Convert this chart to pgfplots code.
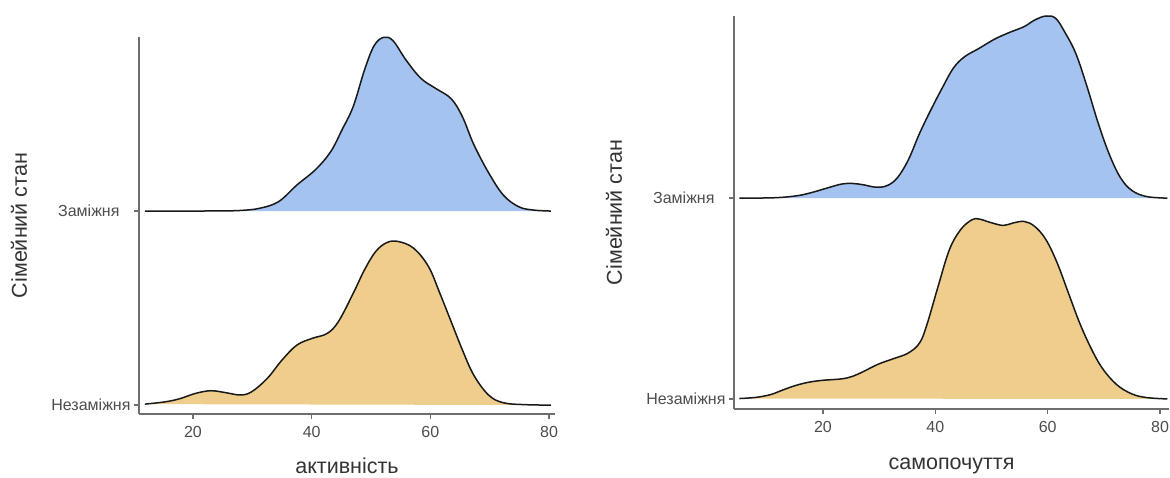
\documentclass[border=0pt]{standalone}
\usepackage{fontspec}
\setmainfont{Liberation Sans}
\usepackage{pgfplots}
\usepackage{pgfplotstable}
\pgfplotsset{compat=1.18}

\definecolor{ridgeblue}{HTML}{A4C3F0}
\definecolor{ridgeorange}{HTML}{EFCD8C}
\definecolor{axisgray}{HTML}{6E6E6E}
\definecolor{labelgray}{HTML}{4D4D4D}

% left panel: активність
\pgfplotstableread{
x y
11.9 1
20.0 1
25.0 1.001
28.0 1.003
31.2 1.014
34.4 1.048
37.5 1.134
40.7 1.215
43.2 1.306
45.1 1.418
47.0 1.539
48.9 1.727
50.5 1.851
52.1 1.895
53.7 1.878
55.9 1.778
58.4 1.684
60.9 1.632
63.5 1.579
65.4 1.486
67.3 1.344
69.8 1.198
72.3 1.082
74.9 1.022
77.4 1.005
80.3 1
}\actmarried
\pgfplotstableread{
x y
11.9 0.005
15.4 0.017
17.9 0.034
20.4 0.060
23.0 0.074
25.5 0.064
28.0 0.052
29.9 0.069
32.5 0.137
35.0 0.232
37.5 0.309
40.1 0.344
42.6 0.369
44.5 0.430
47.0 0.576
48.9 0.697
50.8 0.792
52.7 0.838
54.6 0.843
57.2 0.808
59.7 0.713
61.6 0.576
63.5 0.430
65.4 0.284
67.3 0.155
69.8 0.052
72.3 0.012
76.1 0.002
80.3 0
}\actsingle

% right panel: самопочуття
\pgfplotstableread{
x y
5.1 1
11.4 1.002
15.4 1.012
18.0 1.028
20.7 1.050
23.3 1.070
25.3 1.073
27.3 1.066
29.3 1.055
31.3 1.061
33.2 1.100
35.2 1.191
37.2 1.323
39.2 1.439
41.2 1.547
43.2 1.647
45.2 1.704
47.8 1.746
50.5 1.791
53.1 1.824
55.8 1.854
57.7 1.887
59.7 1.907
61.4 1.896
63.0 1.829
65.0 1.721
67.0 1.556
69.0 1.373
71.0 1.216
73.0 1.100
75.0 1.038
77.6 1.008
81.3 1
}\welmarried
\pgfplotstableread{
x y
5.1 0.002
8.1 0.008
10.7 0.022
12.7 0.043
15.0 0.066
17.4 0.083
20.0 0.093
23.3 0.100
25.3 0.113
27.3 0.138
29.9 0.174
32.6 0.201
35.2 0.229
37.2 0.279
38.5 0.370
40.5 0.561
42.5 0.743
44.5 0.843
46.5 0.892
47.8 0.896
49.8 0.879
52.1 0.864
53.8 0.876
55.8 0.884
57.7 0.859
59.7 0.793
61.7 0.677
63.7 0.527
65.7 0.378
67.7 0.254
69.7 0.154
72.3 0.071
75.0 0.025
77.6 0.007
81.3 0
}\welsingle

\pgfplotsset{
  ridge/.style={
    scale only axis, anchor=south west, clip=false,
    axis lines*=left,
    axis line style={axisgray, line width=1.5pt},
    tick style={axisgray, line width=1.3pt},
    tick align=outside, major tick length=5pt,
    xtick={20,40,60,80}, ytick={0,1},
    yticklabels={Незаміжня, Заміжня\hspace*{11pt}},
    ticklabel style={font=\fontsize{16}{17}\selectfont, text=labelgray},
    xticklabel style={yshift=-4pt},
    /pgf/number format/assume math mode=true,
    every axis x label/.style={at={(axis description cs:0.5,0)}, anchor=center, yshift=-52pt},
    every axis y label/.style={at={(axis description cs:0,0.5)}, anchor=center, xshift=-120pt, rotate=90},
    label style={font=\fontsize{21.5}{22}\selectfont, text=black!80},
    ylabel={Сімейний стан},
  },
  ridgefill/.style={draw=none, fill=#1, smooth, tension=0.6},
  ridgeline/.style={black!90, line width=1.5pt, smooth, tension=0.6},
}

\begin{document}
\begin{tikzpicture}
\useasboundingbox (0,0) rectangle (1170pt,477pt);

\begin{axis}[ridge, at={(139pt,63pt)}, width=416pt, height=377pt,
  xmin=10.9, xmax=81.0, ymin=-0.046, ymax=1.897, xlabel={активність}]
  \addplot[ridgefill=ridgeblue] table {\actmarried} -- cycle;
  \addplot[ridgeline] table {\actmarried};
  \addplot[ridgefill=ridgeorange] table {\actsingle} -- cycle;
  \addplot[ridgeline] table {\actsingle};
\end{axis}

\begin{axis}[ridge, at={(734pt,68pt)}, width=435pt, height=393pt,
  xmin=4.16, xmax=81.6, ymin=-0.05, ymax=1.907, xlabel={самопочуття},
  every axis x label/.append style={yshift=-5pt}]
  \addplot[ridgefill=ridgeblue] table {\welmarried} -- cycle;
  \addplot[ridgeline] table {\welmarried};
  \addplot[ridgefill=ridgeorange] table {\welsingle} -- cycle;
  \addplot[ridgeline] table {\welsingle};
\end{axis}
\end{tikzpicture}
\end{document}
